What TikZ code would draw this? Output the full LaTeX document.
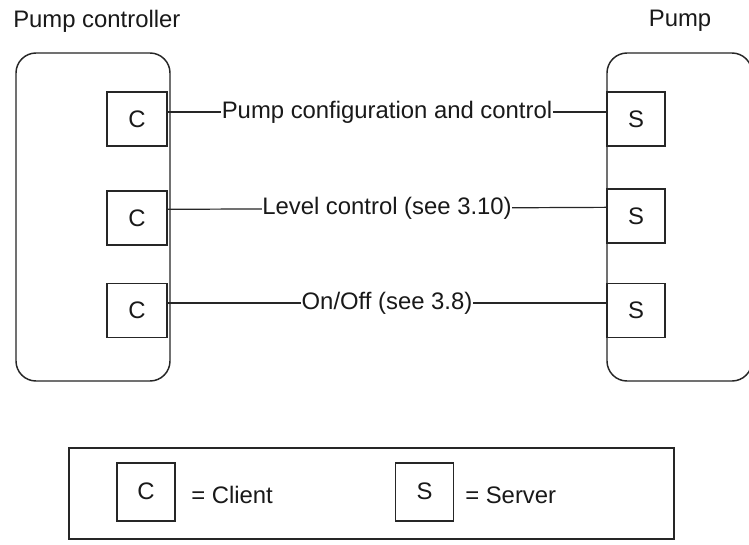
\documentclass[tikz,border=0pt]{standalone}
\usepackage{fontspec}
\setmainfont{Liberation Sans}
\begin{document}
\begin{tikzpicture}[x=0.75pt,y=-0.75pt,
  every node/.style={font=\fontsize{17.9}{21}\selectfont, text=black!90},
  outerbox/.style={draw=black!85, line width=1.1pt, rounded corners=15pt, inner sep=0pt},
  cbox/.style={draw=black!85, fill=white, line width=1.1pt, minimum width=45pt, minimum height=40.5pt, inner sep=0pt},
  sbox/.style={cbox, minimum width=43.5pt},
  legbox/.style={cbox, minimum width=43.5pt, minimum height=43.5pt},
  conn/.style={draw=black!85, line width=0.9pt},
  lbl/.style={fill=white, inner sep=0.5pt},
  txt/.style={inner sep=0pt}
]
\useasboundingbox (0,0) rectangle (749,544);
\clip (0,0) rectangle (749,544);
\fill[white] (0,0) rectangle (749,544);

% titles
\node[txt, anchor=west] (tpc) at (13,21) {Pump controller};
\node[txt] (tp) at (680,21) {Pump};

% outer boxes
\node[outerbox, minimum width=115.5pt, minimum height=246pt] (ctrl) at (93,217) {};
\node[outerbox, minimum width=108.75pt, minimum height=246pt] (pump) at (679.5,217) {};

% client boxes
\node[cbox] (c1) at (137,119) {C};
\node[cbox] (c2) at (137,218) {C};
\node[cbox] (c3) at (137,310.5) {C};
% server boxes
\node[sbox] (s1) at (636,119) {S};
\node[sbox] (s2) at (636,216) {S};
\node[sbox] (s3) at (636,310.5) {S};

% connectors
\draw[conn] ([yshift=5.25pt]c1.east) -- node[lbl] (l1) {Pump configuration and control} ([yshift=5.25pt]s1.west);
\draw[conn] ([yshift=6.5pt]c2.east) -- node[lbl] (l2) {Level control (see 3.10)} ([yshift=6.5pt]s2.west);
\draw[conn] ([yshift=5.6pt]c3.east) -- node[lbl] (l3) {On/Off (see 3.8)} ([yshift=5.6pt]s3.west);

% legend
\node[draw=black!85, line width=1.1pt, minimum width=453.75pt, minimum height=68.25pt, inner sep=0pt] (leg) at (371.5,493.5) {};
\node[legbox] (lc) at (146,492) {\raisebox{2pt}{C}};
\node[txt, anchor=west] (lct) at (191,495) {= Client};
\node[legbox] (ls) at (424.5,492) {\raisebox{2pt}{S}};
\node[txt, anchor=west] (lst) at (465,495) {= Server};
\end{tikzpicture}
\end{document}
